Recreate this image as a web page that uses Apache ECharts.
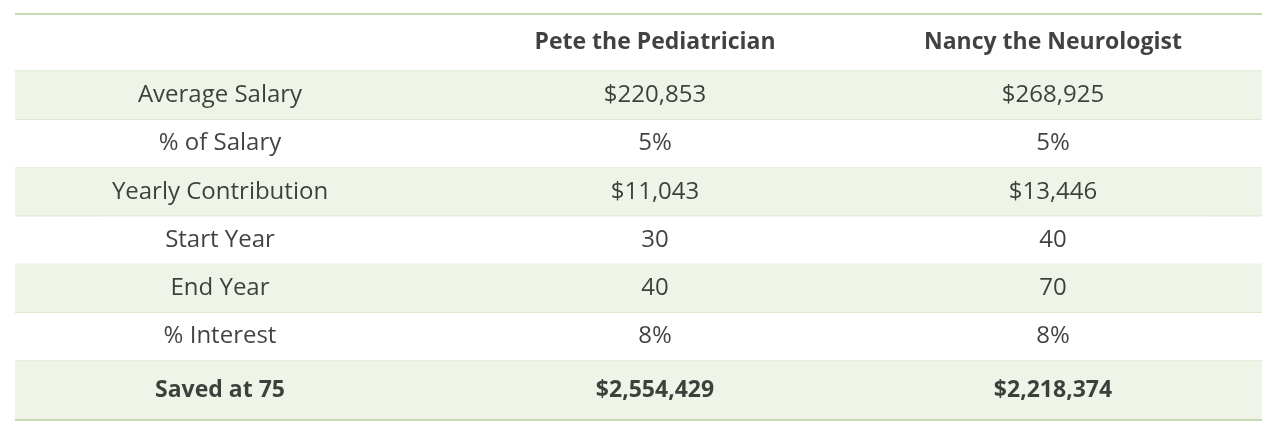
<!DOCTYPE html>
<html><head><meta charset="utf-8">
<script src="https://cdn.jsdelivr.net/npm/echarts@6/dist/echarts.min.js"></script>
<style>html,body{margin:0;background:#fff}#c{width:1280px;height:438px}</style>
</head><body><div id="c"></div>
<script>
const headers = ["", "Pete the Pediatrician", "Nancy the Neurologist"];
const rowLabels = ["Average Salary","% of Salary","Yearly Contribution","Start Year","End Year","% Interest","Saved at 75"];
const pete = ["$220,853","5%","$11,043","30","40","8%","$2,554,429"];
const nancy = ["$268,925","5%","$13,446","40","70","8%","$2,218,374"];

const colX = [205, 640, 1038];          // column centres in table units
const rowH = [57,48,48,48,48,48,48,59]; // header + 7 rows
const edges=[0]; rowH.forEach(h=>edges.push(edges[edges.length-1]+h));
const total = edges[edges.length-1];
const allRows = [headers].concat(rowLabels.map((l,i)=>[l,pete[i],nancy[i]]));

const cellData=[];
allRows.forEach((r,ri)=>r.forEach((t,ci)=>cellData.push([colX[ci],(edges[ri]+edges[ri+1])/2,t,ri])));
const bgData = allRows.map((r,ri)=>[edges[ri],edges[ri+1],ri]);

const chart=echarts.init(document.getElementById('c'));
chart.setOption({
  animation:false,
  grid:{left:15,right:18,top:14,bottom:18},
  xAxis:{type:'value',min:0,max:1247,show:false},
  yAxis:{type:'value',min:0,max:total,inverse:true,show:false},
  series:[
    {type:'custom',data:bgData,renderItem:(p,api)=>{
      const y0=api.coord([0,api.value(0)])[1], y1=api.coord([0,api.value(1)])[1];
      const x0=api.coord([0,0])[0], x1=api.coord([1247,0])[0];
      const ri=api.value(2);
      const ch=[];
      if(ri%2===1) ch.push({type:'rect',shape:{x:x0,y:y0,width:x1-x0,height:y1-y0},style:{fill:'#eef5e8'}});
      if(ri===0) ch.push({type:'line',shape:{x1:x0,y1:y0,x2:x1,y2:y0},style:{stroke:'#c4dbb4',lineWidth:2}});
      ch.push({type:'line',shape:{x1:x0,y1:y1,x2:x1,y2:y1},style:{stroke:ri===7?'#c4dbb4':'#dbe9d0',lineWidth:ri===7||ri===0?2:1}});
      return {type:'group',children:ch};
    }},
    {type:'scatter',symbolSize:0,encode:{x:0,y:1},
     data:cellData.map(d=>({value:d,label:{fontWeight:(d[3]===0||d[3]===7)?'bold':'normal',fontSize:(d[3]===0||d[3]===7)?23:24}})),
     label:{show:true,position:'inside',fontFamily:'Open Sans',fontSize:24,color:'#111',
       formatter:p=>p.value[2]}}
  ]
});
</script></body></html>
